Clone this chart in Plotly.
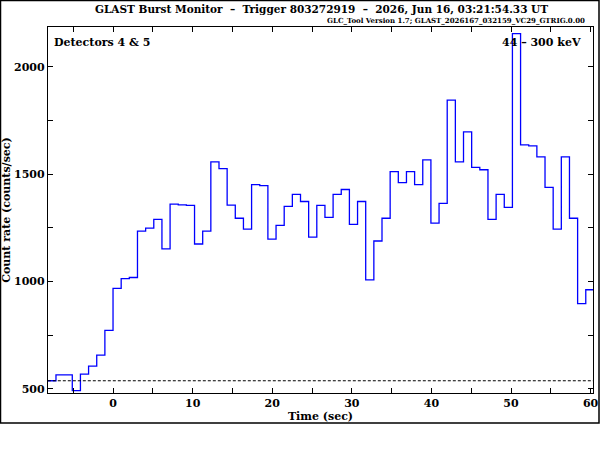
import plotly.graph_objects as go

# bin start times (s) of the 1.024 s light-curve bins, plus the final right edge
bin_edges = [
    -8.192, -7.168, -6.144, -5.120, -4.096, -3.072, -2.048, -1.024,
    0.000, 1.024, 2.048, 3.072, 4.096, 5.120, 6.144, 7.168,
    8.192, 9.216, 10.240, 11.264, 12.288, 13.312, 14.336, 15.360,
    16.384, 17.408, 18.432, 19.456, 20.480, 21.504, 22.528, 23.552,
    24.576, 25.600, 26.624, 27.648, 28.672, 29.696, 30.720, 31.744,
    32.768, 33.792, 34.816, 35.840, 36.864, 37.888, 38.912, 39.936,
    40.960, 41.984, 43.008, 44.032, 45.056, 46.080, 47.104, 48.128,
    49.152, 50.176, 51.200, 52.224, 53.248, 54.272, 55.296, 56.320,
    57.344, 58.368, 59.392, 60.416,
]

# count rate (counts/sec) per bin
count_rate = [
    538, 565, 565, 492, 569, 606, 657, 773,
    968, 1014, 1019, 1235, 1249, 1290, 1152, 1361,
    1357, 1355, 1175, 1235, 1558, 1526, 1356, 1295,
    1244, 1452, 1447, 1198, 1262, 1350, 1406, 1373,
    1207, 1355, 1299, 1406, 1429, 1267, 1373, 1008,
    1189, 1295, 1512, 1461, 1512, 1452, 1567, 1272,
    1364, 1845, 1558, 1697, 1532, 1521, 1290, 1406,
    1346, 2155, 1637, 1632, 1581, 1439, 1244, 1581,
    1295, 897, 962,
]

background_level = 538

x_tickvals = [-5, 0, 5, 10, 15, 20, 25, 30, 35, 40, 45, 50, 55, 60]
x_ticktext = ['', '0', '', '10', '', '20', '', '30', '', '40', '', '50', '', '60']
y_tickvals = [500, 750, 1000, 1250, 1500, 1750, 2000]
y_ticktext = ['500', '', '1000', '', '1500', '', '2000']

W, H = 600, 450
ML, MR, MT, MB = 48, 7, 27, 57
PW, PH = W - ML - MR, H - MT - MB


def px(x):
    return (x - ML) / PW


def py(y):
    return 1 - (y - MT) / PH


FONT = 'DejaVu Serif'
LABEL_FONT = dict(family=FONT, size=11, color='black', weight='bold')

fig = go.Figure()

fig.add_trace(go.Scatter(
    x=bin_edges,
    y=count_rate + [count_rate[-1]],
    mode='lines',
    line=dict(shape='hv', color='#0000ff', width=1.3),
    showlegend=False,
    hoverinfo='skip',
))

fig.add_trace(go.Scatter(
    x=[bin_edges[0], bin_edges[-1]],
    y=[background_level, background_level],
    mode='lines',
    line=dict(color='black', width=1, dash='3px,2px'),
    showlegend=False,
    hoverinfo='skip',
))

axis_common = dict(
    showgrid=False, zeroline=False, automargin=False,
    showline=True, linecolor='black', linewidth=1.3,
    mirror='ticks', ticks='inside', ticklen=5, tickwidth=1, tickcolor='black',
    tickfont=LABEL_FONT,
)

fig.update_xaxes(
    range=[-8.17, 60.3],
    tickmode='array', tickvals=x_tickvals, ticktext=x_ticktext,
    title=dict(text='Time (sec)', font=LABEL_FONT, standoff=2),
    **axis_common,
)
fig.update_yaxes(
    range=[481, 2186],
    tickmode='array', tickvals=y_tickvals, ticktext=y_ticktext,
    title=dict(text='Count rate (counts/sec)', font=LABEL_FONT, standoff=5),
    **axis_common,
)

annotations = [
    dict(text='GLAST Burst Monitor  \u2013  Trigger 803272919  \u2013  2026, Jun 16, 03:21:54.33 UT',
         x=px(321), y=py(9), xanchor='center', yanchor='middle',
         font=dict(family=FONT, size=10.5, color='black', weight='bold')),
    dict(text='GLC_Tool Version 1.7; GLAST_2026167_032159_VC29_GTRIG.0.00',
         x=px(587), y=py(20), xanchor='right', yanchor='middle',
         font=dict(family=FONT, size=7, color='black', weight='bold')),
    dict(text='Detectors 4 & 5',
         x=px(52), y=py(42), xanchor='left', yanchor='middle',
         font=LABEL_FONT),
    dict(text='44 \u2013 300 keV',
         x=px(583), y=py(42), xanchor='right', yanchor='middle',
         font=LABEL_FONT),
]
for a in annotations:
    a.update(xref='paper', yref='paper', showarrow=False)

fig.update_layout(
    width=W, height=H,
    margin=dict(l=ML, r=MR, t=MT, b=MB),
    paper_bgcolor='white', plot_bgcolor='white',
    annotations=annotations,
    shapes=[dict(
        type='rect', xref='paper', yref='paper',
        x0=px(0.5), x1=px(599), y0=py(0.5), y1=py(423),
        line=dict(color='black', width=1.5),
    )],
)

fig.write_html(
    'out.html',
    config={'displayModeBar': False},
    post_script="document.body.style.margin='0';",
)
